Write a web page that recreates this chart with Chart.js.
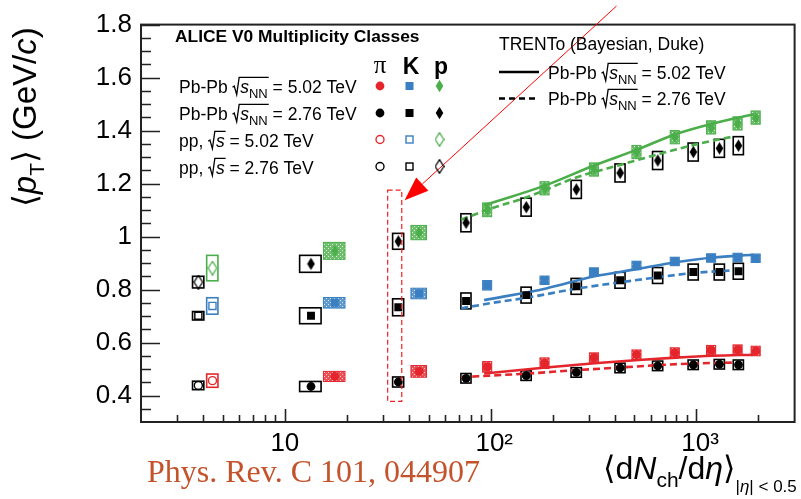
<!DOCTYPE html>
<html>
<head>
<meta charset="utf-8">
<script src="https://cdn.jsdelivr.net/npm/chart.js@4.4.1/dist/chart.umd.min.js"></script>
<style>
  html, body { margin: 0; padding: 0; background: #fff; }
  #c { display: block; }
</style>
</head>
<body>
<canvas id="c" width="801" height="499"></canvas>
<script>
// ---- data ----
const mult502    = [17.5, 44.9, 96.3, 183, 318, 512, 786, 1180, 1587, 1943];
const mult502Err = [2.1, 3.9, 4.9, 9.3, 16, 26, 40, 60, 81, 99];
const mult276    = [13.4, 35.6, 76, 149, 261, 426, 649, 966, 1294, 1601];
const mult276Err = [1.6, 2.2, 4.3, 8.5, 15, 24, 37, 55, 74, 91];
const multPP     = [4.45, 3.8];          // pp 5.02, pp 2.76
const multPPErr  = [0.28, 0.24];

const pion502      = [0.472, 0.491, 0.508, 0.522, 0.543, 0.554, 0.562, 0.571, 0.573, 0.568];
const pion502Sys   = [0.019, 0.022, 0.020, 0.020, 0.018, 0.018, 0.018, 0.018, 0.018, 0.018];
const kaon502      = [0.750, 0.785, 0.816, 0.835, 0.866, 0.891, 0.906, 0.919, 0.921, 0.918];
const kaon502Sys   = [0.020, 0.020, 0.018, 0.016, 0.016, 0.016, 0.016, 0.016, 0.016, 0.016];
const proton502    = [0.946, 1.015, 1.101, 1.182, 1.253, 1.319, 1.375, 1.412, 1.427, 1.449];
const proton502Sys = [0.032, 0.027, 0.026, 0.025, 0.025, 0.025, 0.025, 0.025, 0.025, 0.025];

const pion276      = [0.434, 0.451, 0.465, 0.475, 0.487, 0.504, 0.512, 0.516, 0.518, 0.516];
const pion276Sys   = [0.019, 0.019, 0.018, 0.018, 0.018, 0.018, 0.018, 0.018, 0.018, 0.018];
const kaon276      = [0.701, 0.733, 0.757, 0.779, 0.812, 0.835, 0.853, 0.866, 0.866, 0.869];
const kaon276Sys   = [0.030, 0.032, 0.030, 0.030, 0.030, 0.030, 0.030, 0.030, 0.030, 0.030];
const proton276    = [0.897, 0.982, 1.052, 1.111, 1.178, 1.240, 1.287, 1.319, 1.333, 1.343];
const proton276Sys = [0.032, 0.030, 0.034, 0.034, 0.034, 0.034, 0.034, 0.034, 0.034, 0.034];

// pp: [pi, K, p]
const pp502    = [0.456, 0.738, 0.881];
const pp502Sys = [0.025, 0.031, 0.048];
const pp276    = [0.438, 0.701, 0.828];
const pp276Sys = [0.016, 0.016, 0.022];

// TRENTo (Bayesian, Duke)
const trento502X  = [93, 186, 320, 523, 796, 1205, 1900];
const trentoPi502 = [0.483, 0.506, 0.522, 0.534, 0.543, 0.550, 0.554];
const trentoK502  = [0.760, 0.804, 0.850, 0.878, 0.903, 0.921, 0.931];
const trentoP502  = [1.118, 1.194, 1.269, 1.330, 1.387, 1.427, 1.462];
const trento276X  = [72, 99, 152, 265, 434, 661, 986, 1500];
const trentoPi276 = [0.469, 0.475, 0.483, 0.496, 0.506, 0.515, 0.521, 0.524];
const trentoK276  = [0.729, 0.748, 0.770, 0.804, 0.828, 0.847, 0.863, 0.872];
const trentoP276  = [1.064, 1.104, 1.150, 1.225, 1.272, 1.312, 1.347, 1.377];

const xTicks = [10, 100, 1000];
const xTickLabels = ['10', ' 10²', ' 10³'];
const yTicks = [0.4, 0.6, 0.8, 1.0, 1.2, 1.4, 1.6, 1.8];
const yTickLabels = ['0.4', '0.6', '0.8', '1', '1.2', '1.4', '1.6', '1.8'];

// ---- styles ----
const red = '#e4262c', blue = '#3a7fc1', green = '#4bae4a', black = '#000';
const SANS = '"Liberation Sans", "DejaVu Sans", sans-serif';

function diamond(color, filled) {
  const w = filled ? 9 : 10, h = filled ? 14 : 15;
  const c = document.createElement('canvas');
  c.width = w; c.height = h;
  const g = c.getContext('2d');
  g.beginPath();
  g.moveTo(w / 2, 0.7); g.lineTo(w - 0.7, h / 2); g.lineTo(w / 2, h - 0.7); g.lineTo(0.7, h / 2);
  g.closePath();
  if (filled) { g.fillStyle = color; g.fill(); }
  else { g.strokeStyle = color; g.lineWidth = 1.3; g.stroke(); }
  return c;
}

const canvas = document.getElementById('c');
const ctx0 = canvas.getContext('2d');

function boxPattern(color) {
  const c = document.createElement('canvas');
  c.width = 4; c.height = 4;
  const g = c.getContext('2d');
  g.globalAlpha = 0.8; g.fillStyle = color; g.fillRect(0, 0, 4, 4);
  g.globalAlpha = 1; g.fillStyle = 'rgba(255,255,255,0.75)';
  g.fillRect(0, 0, 1, 1); g.fillRect(2, 2, 1, 1);
  return ctx0.createPattern(c, 'repeat');
}

function markers(xs, ys, xErr, yErr, color, style, open, box) {
  let r = open ? 4 : 4.4;
  if (style === 'rect') r = open ? 5 : 5.6;
  return {
    type: 'scatter',
    data: xs.map((x, i) => ({ x: x, y: ys[i] })),
    pointStyle: style,
    pointRadius: r,
    backgroundColor: open ? 'rgba(0,0,0,0)' : color,
    borderColor: color,
    borderWidth: open ? 1.4 : 0,
    sysX: xErr, sysY: yErr, box: box, boxColor: color,
    order: 1
  };
}

function model(xs, ys, color, dashed) {
  return {
    type: 'line',
    data: xs.map((x, i) => ({ x: x, y: ys[i] })),
    borderColor: color, borderWidth: 2.6,
    borderDash: dashed ? [7, 4] : [],
    pointRadius: 0, fill: false, showLine: true,
    cubicInterpolationMode: 'monotone',
    order: 2
  };
}

const datasets = [
  markers(mult502, pion502, mult502Err, pion502Sys, red, 'circle', false, 'fill'),
  markers(mult502, kaon502, mult502Err, kaon502Sys, blue, 'rect', false, 'fill'),
  markers(mult502, proton502, mult502Err, proton502Sys, green, diamond(green, true), false, 'fill'),
  markers(mult276, pion276, mult276Err, pion276Sys, black, 'circle', false, 'line'),
  markers(mult276, kaon276, mult276Err, kaon276Sys, black, 'rect', false, 'line'),
  markers(mult276, proton276, mult276Err, proton276Sys, black, diamond(black, true), false, 'line'),
  markers([multPP[0]], [pp502[0]], [multPPErr[0]], [pp502Sys[0]], red, 'circle', true, 'line'),
  markers([multPP[0]], [pp502[1]], [multPPErr[0]], [pp502Sys[1]], blue, 'rect', true, 'line'),
  markers([multPP[0]], [pp502[2]], [multPPErr[0]], [pp502Sys[2]], green, diamond(green, false), true, 'line'),
  markers([multPP[1]], [pp276[0]], [multPPErr[1]], [pp276Sys[0]], black, 'circle', true, 'line'),
  markers([multPP[1]], [pp276[1]], [multPPErr[1]], [pp276Sys[1]], black, 'rect', true, 'line'),
  markers([multPP[1]], [pp276[2]], [multPPErr[1]], [pp276Sys[2]], black, diamond(black, false), true, 'line'),
  model(trento502X, trentoPi502, red, false),
  model(trento502X, trentoK502, blue, false),
  model(trento502X, trentoP502, green, false),
  model(trento276X, trentoPi276, red, true),
  model(trento276X, trentoK276, blue, true),
  model(trento276X, trentoP276, green, true)
];

// draw runs of text with their own font and vertical shift
function drawParts(ctx, x, y, parts) {
  parts.forEach(p => {
    ctx.font = p.f;
    ctx.fillText(p.t, x, y + (p.dy || 0));
    x += ctx.measureText(p.t).width;
  });
  return x;
}

function drawSqrtLabel(ctx, x, y, fs, prefix, sub, rest) {
  ctx.font = fs + 'px ' + SANS;
  ctx.fillText(prefix, x, y);
  x += ctx.measureText(prefix).width;
  const rx = x;
  const sx = rx + fs * 0.44;
  ctx.font = 'italic ' + fs + 'px ' + SANS;
  ctx.fillText('s', sx, y);
  let ex = sx + ctx.measureText('s').width;
  if (sub) {
    ctx.font = Math.round(fs * 0.72) + 'px ' + SANS;
    ctx.fillText(sub, ex, y + fs * 0.3);
    ex += ctx.measureText(sub).width;
  }
  ctx.beginPath();
  ctx.moveTo(rx, y - fs * 0.3);
  ctx.lineTo(rx + fs * 0.1, y - fs * 0.37);
  ctx.lineTo(rx + fs * 0.24, y + fs * 0.12);
  ctx.lineTo(rx + fs * 0.38, y - fs * 0.86);
  ctx.lineTo(ex + 1, y - fs * 0.86);
  ctx.lineWidth = 1.3;
  ctx.strokeStyle = '#000';
  ctx.stroke();
  ctx.font = fs + 'px ' + SANS;
  ctx.fillText(rest, ex, y);
}

function drawMarker(ctx, style, color, open, x, y) {
  ctx.save();
  ctx.fillStyle = color; ctx.strokeStyle = color; ctx.lineWidth = 1.4;
  if (style === 'circle') {
    ctx.beginPath(); ctx.arc(x, y, open ? 4 : 4.4, 0, Math.PI * 2);
    open ? ctx.stroke() : ctx.fill();
  } else if (style === 'rect') {
    const s = open ? 7 : 8;
    open ? ctx.strokeRect(x - s / 2, y - s / 2, s, s) : ctx.fillRect(x - s / 2, y - s / 2, s, s);
  } else {
    const img = diamond(color, !open);
    ctx.drawImage(img, x - img.width / 2, y - img.height / 2);
  }
  ctx.restore();
}

const boxesPlugin = {
  id: 'sysBoxes',
  beforeDatasetsDraw(chart) {
    const { ctx, scales: { x, y } } = chart;
    ctx.save();
    chart.data.datasets.forEach(ds => {
      if (!ds.sysY) return;
      ds.data.forEach((p, i) => {
        const x0 = x.getPixelForValue(p.x - ds.sysX[i]);
        const x1 = x.getPixelForValue(p.x + ds.sysX[i]);
        const y0 = y.getPixelForValue(p.y + ds.sysY[i]);
        const y1 = y.getPixelForValue(p.y - ds.sysY[i]);
        if (ds.box === 'fill') {
          ctx.fillStyle = boxPattern(ds.boxColor);
          ctx.fillRect(x0, y0, x1 - x0, y1 - y0);
          ctx.strokeStyle = ds.boxColor; ctx.lineWidth = 1;
          ctx.strokeRect(x0, y0, x1 - x0, y1 - y0);
        } else {
          ctx.strokeStyle = ds.boxColor; ctx.lineWidth = 1.6;
          ctx.strokeRect(x0, y0, x1 - x0, y1 - y0);
        }
      });
    });
    ctx.restore();
  }
};

const decorPlugin = {
  id: 'decor',
  afterDraw(chart) {
    const { ctx, chartArea: a, scales: { x, y } } = chart;
    ctx.save();
    // frame and inward ticks
    ctx.strokeStyle = '#222';
    ctx.lineWidth = 1.6;
    ctx.beginPath();
    for (let k = 7; k <= 36; k++) {
      const py = Math.round(y.getPixelForValue(k * 0.05)) + 0.5;
      const len = k % 4 === 0 ? 19 : 10;
      ctx.moveTo(a.left, py); ctx.lineTo(a.left + len, py);
    }
    for (let e = 0; e <= 3; e++) {
      for (let m = 1; m <= 9; m++) {
        const v = m * Math.pow(10, e);
        if (v <= 2 || v >= 3000) continue;
        const px = Math.round(x.getPixelForValue(v)) + 0.5;
        const len = m === 1 ? 13 : 7;
        ctx.moveTo(px, a.bottom); ctx.lineTo(px, a.bottom - len);
      }
    }
    ctx.stroke();
    ctx.lineWidth = 2;
    ctx.strokeRect(a.left, a.top, a.right - a.left, a.bottom - a.top);

    // highlight box and arrow
    const bx0 = x.getPixelForValue(31.6), bx1 = x.getPixelForValue(37.0);
    const by0 = y.getPixelForValue(1.175), by1 = y.getPixelForValue(0.378);
    ctx.setLineDash([5, 3]);
    ctx.strokeStyle = '#f02020'; ctx.lineWidth = 1.2;
    ctx.strokeRect(bx0, by0, bx1 - bx0, by1 - by0);
    ctx.setLineDash([]);
    const sx = x.getPixelForValue(409), sy = y.getPixelForValue(1.87);
    const tx = x.getPixelForValue(38.2), ty = y.getPixelForValue(1.137);
    const len = Math.hypot(tx - sx, ty - sy), ux = (tx - sx) / len, uy = (ty - sy) / len;
    const hx = tx - ux * 24, hy = ty - uy * 24;
    ctx.strokeStyle = '#ff0000'; ctx.lineWidth = 1;
    ctx.beginPath(); ctx.moveTo(sx, sy); ctx.lineTo(hx, hy); ctx.stroke();
    ctx.fillStyle = '#ff0000';
    ctx.beginPath();
    ctx.moveTo(tx, ty);
    ctx.lineTo(hx - uy * 9, hy + ux * 9);
    ctx.lineTo(hx + uy * 9, hy - ux * 9);
    ctx.closePath(); ctx.fill();

    // legend (data)
    ctx.fillStyle = '#000';
    ctx.textAlign = 'left';
    ctx.font = 'bold 17.4px ' + SANS;
    ctx.fillText('ALICE V0 Multiplicity Classes', 175, 42);
    ctx.textAlign = 'center';
    ctx.font = '25px "Liberation Serif", serif';
    ctx.fillText('π', 380, 73);
    ctx.font = 'bold 23px ' + SANS;
    ctx.fillText('K', 411, 74);
    ctx.fillText('p', 441, 74);
    ctx.textAlign = 'left';
    const rowsY = [86, 113, 139.5, 166.5];
    drawSqrtLabel(ctx, 179, 92.5, 17.5, 'Pb-Pb ', 'NN', ' = 5.02 TeV');
    drawSqrtLabel(ctx, 179, 119.5, 17.5, 'Pb-Pb ', 'NN', ' = 2.76 TeV');
    drawSqrtLabel(ctx, 179, 146.5, 17.5, 'pp, ', '', ' = 5.02 TeV');
    drawSqrtLabel(ctx, 179, 173.5, 17.5, 'pp, ', '', ' = 2.76 TeV');
    const legendRows = [
      { colors: [red, blue, green], open: false },
      { colors: [black, black, black], open: false },
      { colors: [red, blue, green], open: true },
      { colors: [black, black, black], open: true }
    ];
    const styles = ['circle', 'rect', 'diamond'];
    const colX = [380, 409.5, 439.5];
    legendRows.forEach((r, i) => {
      styles.forEach((s, j) => drawMarker(ctx, s, r.colors[j], r.open, colX[j], rowsY[i]));
    });

    // legend (model)
    ctx.fillStyle = '#000';
    ctx.font = '17.5px ' + SANS;
    ctx.fillText('TRENTo (Bayesian, Duke)', 499, 50);
    ctx.strokeStyle = '#000'; ctx.lineWidth = 2.6;
    ctx.beginPath(); ctx.moveTo(499, 72); ctx.lineTo(539, 72); ctx.stroke();
    ctx.setLineDash([6, 4]);
    ctx.beginPath(); ctx.moveTo(499, 98.5); ctx.lineTo(539, 98.5); ctx.stroke();
    ctx.setLineDash([]);
    drawSqrtLabel(ctx, 548, 78.5, 17.5, 'Pb-Pb ', 'NN', ' = 5.02 TeV');
    drawSqrtLabel(ctx, 548, 104.5, 17.5, 'Pb-Pb ', 'NN', ' = 2.76 TeV');

    // axis titles
    ctx.fillStyle = '#000';
    ctx.save();
    ctx.translate(36, 207);
    ctx.rotate(-Math.PI / 2);
    drawParts(ctx, 0, 0, [
      { t: '⟨', f: '33px ' + SANS },
      { t: 'p', f: 'italic 33px ' + SANS },
      { t: 'T', f: '21px ' + SANS, dy: 8 },
      { t: '⟩', f: '33px ' + SANS },
      { t: ' (GeV/', f: '33px ' + SANS },
      { t: 'c', f: 'italic 33px ' + SANS },
      { t: ')', f: '33px ' + SANS }
    ]);
    ctx.restore();
    drawParts(ctx, 603, 479, [
      { t: '⟨', f: '32px ' + SANS },
      { t: 'd', f: '32px ' + SANS },
      { t: 'N', f: 'italic 32px ' + SANS },
      { t: 'ch', f: '21px ' + SANS, dy: 8 },
      { t: '/d', f: '32px ' + SANS },
      { t: 'η', f: 'italic 32px ' + SANS },
      { t: '⟩', f: '32px ' + SANS },
      { t: '|', f: '17px ' + SANS, dy: 13 },
      { t: 'η', f: 'italic 17px ' + SANS, dy: 13 },
      { t: '| < 0.5', f: '17px ' + SANS, dy: 13 }
    ]);

    // reference
    ctx.fillStyle = '#c4522b';
    ctx.font = '32px "Liberation Serif", serif';
    ctx.fillText('Phys. Rev. C 101, 044907', 147, 482);
    ctx.restore();
  }
};

new Chart(canvas, {
  type: 'scatter',
  data: { datasets: datasets },
  options: {
    responsive: false,
    animation: false,
    events: [],
    layout: { padding: { left: 0, right: 4, top: 19, bottom: 0 } },
    plugins: { legend: { display: false }, tooltip: { enabled: false } },
    scales: {
      x: {
        type: 'logarithmic', min: 2, max: 3000,
        grid: { display: false, drawTicks: false },
        border: { display: false },
        ticks: {
          autoSkip: false, maxRotation: 0, padding: 6, color: '#000',
          font: { family: 'Liberation Sans', size: 26 },
          callback: (v, i) => xTickLabels[i]
        },
        afterBuildTicks: s => { s.ticks = xTicks.map(v => ({ value: v })); },
        afterFit: s => { s.height = 77; }
      },
      y: {
        min: 0.3, max: 1.8,
        grid: { display: false, drawTicks: false },
        border: { display: false },
        ticks: {
          padding: 9, color: '#000',
          font: { family: 'Liberation Sans', size: 26 },
          callback: (v, i) => yTickLabels[i]
        },
        afterBuildTicks: s => { s.ticks = yTicks.map(v => ({ value: v })); },
        afterFit: s => { s.width = 141; }
      }
    }
  },
  plugins: [boxesPlugin, decorPlugin]
});
</script>
</body>
</html>
